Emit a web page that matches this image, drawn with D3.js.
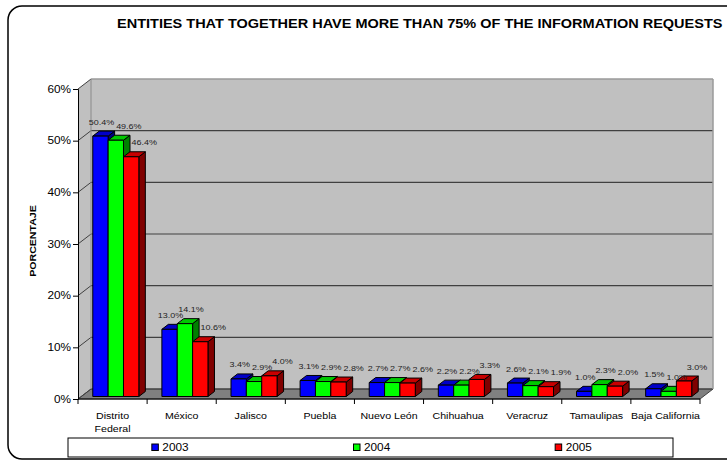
<!DOCTYPE html>
<html>
<head>
<meta charset="utf-8">
<script src="https://cdn.jsdelivr.net/npm/d3@7/dist/d3.min.js"></script>
<style>
  html, body { margin: 0; padding: 0; background: #fff; }
  svg { display: block; }
  text { font-family: "Liberation Sans", Arial, sans-serif; }
</style>
</head>
<body>
<svg id="chart" width="727" height="461"></svg>
<script>
// Share of information requests by entity (%), per year
const categories = ["Distrito\nFederal", "México", "Jalisco", "Puebla", "Nuevo León",
                    "Chihuahua", "Veracruz", "Tamaulipas", "Baja California"];
const years = ["2003", "2004", "2005"];
const values2003 = [50.4, 13.0, 3.4, 3.1, 2.7, 2.2, 2.6, 1.0, 1.5];
const values2004 = [49.6, 14.1, 2.9, 2.9, 2.7, 2.2, 2.1, 2.3, 1.0];
const values2005 = [46.4, 10.6, 4.0, 2.8, 2.6, 3.3, 1.9, 2.0, 3.0];
const yTicks = [0, 10, 20, 30, 40, 50, 60];
const titleText = "ENTITIES THAT TOGETHER HAVE MORE THAN 75% OF THE INFORMATION REQUESTS";
const yAxisTitle = "PORCENTAJE";

const seriesValues = [values2003, values2004, values2005];
const faceColors = ["#0000ff", "#00ff00", "#ff0000"];
const topColors  = ["#0000c8", "#00c800", "#c80000"];
const sideColors = ["#000080", "#008000", "#800000"];
const labelShift = [1, 6, 13];

const svg = d3.select("#chart");
const STRETCH = 1.18; // horizontally widened lettering

// plot box (front plane) and 3D depth vector of the floor/walls
const plot = { left: 78, right: 700, top: 89, bottom: 399 };
const D = { dx: 13, dy: -10 };

const y = d3.scaleLinear().domain([0, 60]).range([plot.bottom, plot.top]);
const x = d3.scaleBand().domain(categories).range([plot.left, plot.right]).padding(0);
const xs = d3.scaleBand().domain(years).range([0, x.bandwidth()])
  .paddingInner(0).paddingOuter(0.75);

function stretchedText(g, tx, ty, str, opts) {
  const t = g.append("text")
    .attr("transform", `translate(${tx},${ty}) scale(${STRETCH},1)`)
    .attr("font-size", opts.size)
    .attr("fill", opts.fill || "#000")
    .attr("text-anchor", opts.anchor || "middle")
    .text(str);
  if (opts.weight) t.attr("font-weight", opts.weight);
  return t;
}

// outer frame with rounded corners
svg.append("rect")
  .attr("x", 8).attr("y", 6).attr("width", 760).attr("height", 453)
  .attr("rx", 14).attr("ry", 14)
  .attr("fill", "#fff").attr("stroke", "#000").attr("stroke-width", 1.5);

// title
stretchedText(svg, 117, 28, titleText, { size: 12.3, weight: "bold", anchor: "start" });

// y axis title
svg.append("text")
  .attr("transform", `translate(36,241) rotate(-90) scale(${STRETCH},1)`)
  .attr("font-size", 9).attr("font-weight", "bold").attr("text-anchor", "middle")
  .text(yAxisTitle);

const walls = svg.append("g");
const pts = a => a.map(p => p.join(",")).join(" ");

// side wall
walls.append("polygon")
  .attr("points", pts([[plot.left, plot.bottom], [plot.left, plot.top],
    [plot.left + D.dx, plot.top + D.dy], [plot.left + D.dx, plot.bottom + D.dy]]))
  .attr("fill", "#c0c0c0");
// back wall
walls.append("rect")
  .attr("x", plot.left + D.dx).attr("y", plot.top + D.dy)
  .attr("width", plot.right - plot.left).attr("height", plot.bottom - plot.top)
  .attr("fill", "#c0c0c0");
// floor
walls.append("polygon")
  .attr("points", pts([[plot.left, plot.bottom], [plot.right, plot.bottom],
    [plot.right + D.dx, plot.bottom + D.dy], [plot.left + D.dx, plot.bottom + D.dy]]))
  .attr("fill", "#808080").attr("stroke", "#404040").attr("stroke-width", 1);

// gridlines on back wall and side wall
yTicks.forEach(t => {
  const yy = y(t);
  const col = t === 60 ? "#9a9a9a" : "#404040";
  walls.append("line")
    .attr("x1", plot.left + D.dx).attr("x2", plot.right + D.dx)
    .attr("y1", yy + D.dy).attr("y2", yy + D.dy)
    .attr("stroke", col).attr("stroke-width", t === 60 ? 1.5 : 1.2);
  walls.append("line")
    .attr("x1", plot.left).attr("y1", yy)
    .attr("x2", plot.left + D.dx).attr("y2", yy + D.dy)
    .attr("stroke", "#404040").attr("stroke-width", 1);
});
// back wall vertical edges
walls.append("line")
  .attr("x1", plot.left + D.dx).attr("x2", plot.left + D.dx)
  .attr("y1", plot.top + D.dy).attr("y2", plot.bottom + D.dy)
  .attr("stroke", "#8a8a8a").attr("stroke-width", 1);
walls.append("line")
  .attr("x1", plot.right + D.dx).attr("x2", plot.right + D.dx)
  .attr("y1", plot.top + D.dy).attr("y2", plot.bottom + D.dy)
  .attr("stroke", "#9a9a9a").attr("stroke-width", 1.5);

// y axis
const yAxisG = svg.append("g").attr("transform", `translate(${plot.left},0)`)
  .call(d3.axisLeft(y).tickValues(yTicks).tickSize(5).tickPadding(2).tickFormat(d => d + "%"));
yAxisG.select(".domain").attr("stroke", "#000");
yAxisG.selectAll(".tick line").attr("stroke", "#000");
yAxisG.selectAll(".tick text").remove();
yTicks.forEach(t => {
  stretchedText(svg, 71, y(t) + 3.6, t + "%", { size: 10, anchor: "end" });
});

// x axis: front edge of floor with ticks at category boundaries
svg.append("line")
  .attr("x1", plot.left).attr("x2", plot.right)
  .attr("y1", plot.bottom).attr("y2", plot.bottom)
  .attr("stroke", "#000").attr("stroke-width", 1);
const bounds = categories.map(c => x(c)).concat([plot.right]);
bounds.forEach(bx => {
  svg.append("line")
    .attr("x1", bx).attr("x2", bx).attr("y1", plot.bottom).attr("y2", plot.bottom + 5)
    .attr("stroke", "#000").attr("stroke-width", 1);
});
categories.forEach(c => {
  const lines = c.split("\n");
  lines.forEach((ln, i) => {
    stretchedText(svg, x(c) + x.bandwidth() / 2, 418.5 + i * 13.5, ln, { size: 9 });
  });
});

// 3D bars: each sits between 25% and 75% of the floor depth
const bars = svg.append("g");
const labels = svg.append("g");
const f0 = 0.25, f1 = 0.75;
const bdx = (f1 - f0) * D.dx, bdy = (f1 - f0) * D.dy;
categories.forEach((c, ci) => {
  let prev = null; // previous label box in this category
  years.forEach((yr, si) => {
    const v = seriesValues[si][ci];
    const x0 = x(c) + xs(yr) + f0 * D.dx;
    const x1 = x0 + xs.bandwidth();
    const yb = y(0) + f0 * D.dy;
    const yt = y(v) + f0 * D.dy;
    const g = bars.append("g").attr("stroke", "#000").attr("stroke-width", 1)
      .attr("stroke-linejoin", "round");
    g.append("polygon")
      .attr("points", pts([[x1, yt], [x1 + bdx, yt + bdy], [x1 + bdx, yb + bdy], [x1, yb]]))
      .attr("fill", sideColors[si]);
    g.append("polygon")
      .attr("points", pts([[x0, yt], [x1, yt], [x1 + bdx, yt + bdy], [x0 + bdx, yt + bdy]]))
      .attr("fill", topColors[si]);
    g.append("rect")
      .attr("x", x0).attr("y", yt).attr("width", x1 - x0).attr("height", yb - yt)
      .attr("fill", faceColors[si]);

    // value label, nudged right when it would sit on top of its neighbour
    const ly = yt - 11.5;
    let lx = (x0 + x1) / 2 + labelShift[si];
    const lbl = stretchedText(labels, lx, ly, v.toFixed(1) + "%", { size: 7.6, fill: "#222" });
    const w = lbl.node().getComputedTextLength() * STRETCH;
    if (prev && Math.abs(prev.y - ly) < 5 && lx - w / 2 < prev.right + 2) {
      lx = prev.right + 2 + w / 2;
      lbl.attr("transform", `translate(${lx},${ly}) scale(${STRETCH},1)`);
    }
    prev = { y: ly, right: lx + w / 2 };
  });
});

// legend
const legend = { x: 68, y: 438, w: 605, h: 19 };
svg.append("rect")
  .attr("x", legend.x).attr("y", legend.y).attr("width", legend.w).attr("height", legend.h)
  .attr("fill", "#fff").attr("stroke", "#000").attr("stroke-width", 1);
const cell = legend.w / years.length;
years.forEach((yr, i) => {
  const cx = legend.x + cell * i + cell / 2;
  const sx = cx - 17;
  svg.append("rect")
    .attr("x", sx).attr("y", legend.y + 6).attr("width", 6.5).attr("height", 6.5)
    .attr("fill", faceColors[i]).attr("stroke", "#000").attr("stroke-width", 1);
  stretchedText(svg, sx + 10.5, legend.y + 13.3, yr, { size: 10, anchor: "start" });
});
</script>
</body>
</html>
